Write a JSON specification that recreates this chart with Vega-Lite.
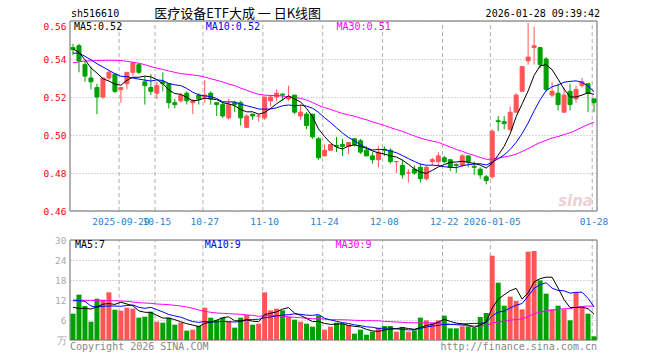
{
"$schema": "https://vega.github.io/schema/vega-lite/v6.json",
"width": 527, "height": 319,
"autosize": {"type": "none"},
"padding": {"left": 70, "top": 21, "right": 63, "bottom": 20},
"background": "white",
"config": {"view": {"stroke": null}, "font": "DejaVu Sans Mono", "text": {"font": "DejaVu Sans Mono", "fontSize": 10}},
"data": {"values": [
{"d":"2025-09-17","o":0.546,"h":0.548,"l":0.542,"c":0.545,"v":7.9,"m5":0.5453,"m10":0.5431,"m30":0.5380,"v5":9.8,"v10":11.8,"v30":12.0},
{"d":"2025-09-18","o":0.547,"h":0.548,"l":0.533,"c":0.539,"v":13.6,"m5":0.5435,"m10":0.5431,"m30":0.5385,"v5":9.5,"v10":11.8,"v30":12.0},
{"d":"2025-09-19","o":0.537,"h":0.539,"l":0.528,"c":0.531,"v":10.2,"m5":0.5396,"m10":0.5414,"m30":0.5390,"v5":9.5,"v10":11.6,"v30":11.9},
{"d":"2025-09-22","o":0.530,"h":0.536,"l":0.524,"c":0.528,"v":5.5,"m5":0.5353,"m10":0.5396,"m30":0.5390,"v5":9.3,"v10":10.2,"v30":11.9},
{"d":"2025-09-23","o":0.525,"h":0.527,"l":0.511,"c":0.520,"v":12.4,"m5":0.5326,"m10":0.5375,"m30":0.5392,"v5":9.92,"v10":9.9,"v30":11.8},
{"d":"2025-09-24","o":0.520,"h":0.530,"l":0.519,"c":0.530,"v":12.1,"m5":0.5296,"m10":0.5358,"m30":0.5393,"v5":10.76,"v10":10.1,"v30":11.8},
{"d":"2025-09-25","o":0.530,"h":0.534,"l":0.529,"c":0.533,"v":14.3,"m5":0.5284,"m10":0.5340,"m30":0.5393,"v5":10.9,"v10":10.2,"v30":11.8},
{"d":"2025-09-26","o":0.532,"h":0.532,"l":0.522,"c":0.523,"v":9.1,"m5":0.5268,"m10":0.5323,"m30":0.5393,"v5":10.68,"v10":10.2,"v30":11.8},
{"d":"2025-09-29","o":0.524,"h":0.525,"l":0.517,"c":0.525,"v":8.8,"m5":0.5262,"m10":0.5309,"m30":0.5392,"v5":11.34,"v10":10.1,"v30":11.7},
{"d":"2025-09-30","o":0.527,"h":0.533,"l":0.524,"c":0.533,"v":9.7,"m5":0.5288,"m10":0.5307,"m30":0.5388,"v5":10.8,"v10":10.36,"v30":11.6},
{"d":"2025-10-09","o":0.533,"h":0.538,"l":0.531,"c":0.538,"v":9.4,"m5":0.5304,"m10":0.5300,"m30":0.5383,"v5":10.26,"v10":10.51,"v30":11.4},
{"d":"2025-10-10","o":0.537,"h":0.538,"l":0.532,"c":0.533,"v":6.7,"m5":0.5304,"m10":0.5294,"m30":0.5378,"v5":8.74,"v10":9.82,"v30":11.2},
{"d":"2025-10-13","o":0.528,"h":0.531,"l":0.516,"c":0.526,"v":7.0,"m5":0.5310,"m10":0.5289,"m30":0.5370,"v5":8.32,"v10":9.5,"v30":11.1},
{"d":"2025-10-14","o":0.525,"h":0.532,"l":0.521,"c":0.523,"v":8.5,"m5":0.5306,"m10":0.5284,"m30":0.5360,"v5":8.26,"v10":9.8,"v30":11.0},
{"d":"2025-10-15","o":0.522,"h":0.528,"l":0.519,"c":0.526,"v":5.5,"m5":0.5292,"m10":0.5290,"m30":0.5352,"v5":7.42,"v10":9.11,"v30":10.8},
{"d":"2025-10-16","o":0.528,"h":0.533,"l":0.523,"c":0.527,"v":5.2,"m5":0.5270,"m10":0.5287,"m30":0.5345,"v5":6.58,"v10":8.42,"v30":10.7},
{"d":"2025-10-17","o":0.527,"h":0.527,"l":0.514,"c":0.517,"v":6.7,"m5":0.5238,"m10":0.5271,"m30":0.5337,"v5":6.58,"v10":7.66,"v30":10.6},
{"d":"2025-10-20","o":0.517,"h":0.519,"l":0.514,"c":0.516,"v":4.6,"m5":0.5218,"m10":0.5264,"m30":0.5330,"v5":6.1,"v10":7.21,"v30":10.4},
{"d":"2025-10-21","o":0.518,"h":0.522,"l":0.517,"c":0.521,"v":5.2,"m5":0.5214,"m10":0.5260,"m30":0.5323,"v5":5.44,"v10":6.85,"v30":10.2},
{"d":"2025-10-22","o":0.522,"h":0.523,"l":0.516,"c":0.518,"v":2.8,"m5":0.5198,"m10":0.5245,"m30":0.5320,"v5":4.9,"v10":6.16,"v30":9.9},
{"d":"2025-10-23","o":0.517,"h":0.519,"l":0.511,"c":0.518,"v":3.1,"m5":0.5180,"m10":0.5225,"m30":0.5316,"v5":4.48,"v10":5.53,"v30":9.5},
{"d":"2025-10-24","o":0.521,"h":0.522,"l":0.516,"c":0.519,"v":4.3,"m5":0.5184,"m10":0.5211,"m30":0.5312,"v5":4.0,"v10":5.29,"v30":9.0},
{"d":"2025-10-27","o":0.520,"h":0.529,"l":0.517,"c":0.521,"v":9.7,"m5":0.5194,"m10":0.5206,"m30":0.5305,"v5":5.02,"v10":5.56,"v30":8.6},
{"d":"2025-10-28","o":0.522,"h":0.523,"l":0.516,"c":0.519,"v":6.7,"m5":0.5190,"m10":0.5202,"m30":0.5296,"v5":5.32,"v10":5.38,"v30":8.3},
{"d":"2025-10-29","o":0.517,"h":0.517,"l":0.510,"c":0.516,"v":6.0,"m5":0.5186,"m10":0.5192,"m30":0.5288,"v5":5.96,"v10":5.43,"v30":8.1},
{"d":"2025-10-30","o":0.516,"h":0.517,"l":0.509,"c":0.510,"v":6.7,"m5":0.5170,"m10":0.5175,"m30":0.5279,"v5":6.68,"v10":5.58,"v30":8.0},
{"d":"2025-10-31","o":0.509,"h":0.519,"l":0.508,"c":0.516,"v":5.7,"m5":0.5164,"m10":0.5174,"m30":0.5268,"v5":6.96,"v10":5.48,"v30":7.9},
{"d":"2025-11-03","o":0.517,"h":0.518,"l":0.512,"c":0.516,"v":3.7,"m5":0.5154,"m10":0.5174,"m30":0.5260,"v5":5.76,"v10":5.39,"v30":7.8},
{"d":"2025-11-04","o":0.517,"h":0.518,"l":0.505,"c":0.509,"v":6.7,"m5":0.5134,"m10":0.5162,"m30":0.5247,"v5":5.76,"v10":5.54,"v30":7.7},
{"d":"2025-11-05","o":0.504,"h":0.511,"l":0.504,"c":0.510,"v":7.5,"m5":0.5122,"m10":0.5154,"m30":0.5235,"v5":6.06,"v10":6.01,"v30":7.51},
{"d":"2025-11-06","o":0.511,"h":0.511,"l":0.508,"c":0.510,"v":4.6,"m5":0.5122,"m10":0.5146,"m30":0.5224,"v5":5.64,"v10":6.16,"v30":7.4},
{"d":"2025-11-07","o":0.510,"h":0.511,"l":0.507,"c":0.510,"v":4.9,"m5":0.5110,"m10":0.5137,"m30":0.5214,"v5":5.48,"v10":6.22,"v30":7.11},
{"d":"2025-11-10","o":0.509,"h":0.520,"l":0.508,"c":0.520,"v":14.3,"m5":0.5118,"m10":0.5136,"m30":0.5210,"v5":7.6,"v10":6.68,"v30":7.25},
{"d":"2025-11-11","o":0.518,"h":0.521,"l":0.515,"c":0.520,"v":8.9,"m5":0.5140,"m10":0.5137,"m30":0.5208,"v5":8.04,"v10":6.9,"v30":7.36},
{"d":"2025-11-12","o":0.520,"h":0.524,"l":0.518,"c":0.522,"v":9.4,"m5":0.5164,"m10":0.5143,"m30":0.5208,"v5":8.42,"v10":7.24,"v30":7.26},
{"d":"2025-11-13","o":0.5215,"h":0.522,"l":0.518,"c":0.521,"v":8.9,"m5":0.5186,"m10":0.5154,"m30":0.5205,"v5":9.28,"v10":7.46,"v30":7.15},
{"d":"2025-11-14","o":0.519,"h":0.526,"l":0.518,"c":0.520,"v":7.0,"m5":0.5206,"m10":0.5158,"m30":0.5201,"v5":9.7,"v10":7.59,"v30":6.91},
{"d":"2025-11-17","o":0.521,"h":0.521,"l":0.511,"c":0.512,"v":6.1,"m5":0.5190,"m10":0.5154,"m30":0.5197,"v5":8.06,"v10":7.83,"v30":6.81},
{"d":"2025-11-18","o":0.510,"h":0.516,"l":0.508,"c":0.512,"v":5.5,"m5":0.5174,"m10":0.5157,"m30":0.5193,"v5":7.38,"v10":7.71,"v30":6.7},
{"d":"2025-11-19","o":0.511,"h":0.512,"l":0.503,"c":0.505,"v":4.9,"m5":0.5140,"m10":0.5152,"m30":0.5184,"v5":6.48,"v10":7.45,"v30":6.54},
{"d":"2025-11-20","o":0.511,"h":0.511,"l":0.498,"c":0.499,"v":4.0,"m5":0.5096,"m10":0.5141,"m30":0.5171,"v5":5.5,"v10":7.39,"v30":6.36},
{"d":"2025-11-21","o":0.498,"h":0.499,"l":0.487,"c":0.488,"v":7.4,"m5":0.5032,"m10":0.5119,"m30":0.5156,"v5":5.58,"v10":7.64,"v30":6.38},
{"d":"2025-11-24","o":0.489,"h":0.495,"l":0.489,"c":0.492,"v":3.1,"m5":0.4992,"m10":0.5091,"m30":0.5144,"v5":4.98,"v10":6.52,"v30":6.25},
{"d":"2025-11-25","o":0.492,"h":0.495,"l":0.492,"c":0.495,"v":4.0,"m5":0.4958,"m10":0.5066,"m30":0.5135,"v5":4.68,"v10":6.03,"v30":6.1},
{"d":"2025-11-26","o":0.4945,"h":0.499,"l":0.491,"c":0.494,"v":5.2,"m5":0.4936,"m10":0.5038,"m30":0.5124,"v5":4.74,"v10":5.61,"v30":6.09},
{"d":"2025-11-27","o":0.495,"h":0.498,"l":0.489,"c":0.494,"v":4.9,"m5":0.4926,"m10":0.5011,"m30":0.5113,"v5":4.92,"v10":5.21,"v30":6.08},
{"d":"2025-11-28","o":0.494,"h":0.496,"l":0.490,"c":0.496,"v":4.5,"m5":0.4942,"m10":0.4987,"m30":0.5106,"v5":4.34,"v10":4.96,"v30":6.01},
{"d":"2025-12-01","o":0.498,"h":0.498,"l":0.494,"c":0.495,"v":1.9,"m5":0.4948,"m10":0.4970,"m30":0.5099,"v5":4.1,"v10":4.54,"v30":5.92},
{"d":"2025-12-02","o":0.497,"h":0.498,"l":0.490,"c":0.491,"v":3.1,"m5":0.4940,"m10":0.4949,"m30":0.5089,"v5":3.92,"v10":4.3,"v30":5.85},
{"d":"2025-12-03","o":0.492,"h":0.494,"l":0.489,"c":0.489,"v":1.6,"m5":0.4930,"m10":0.4933,"m30":0.5080,"v5":3.2,"v10":3.97,"v30":5.81},
{"d":"2025-12-04","o":0.489,"h":0.491,"l":0.485,"c":0.487,"v":2.5,"m5":0.4916,"m10":0.4921,"m30":0.5069,"v5":2.72,"v10":3.82,"v30":5.79},
{"d":"2025-12-05","o":0.487,"h":0.494,"l":0.483,"c":0.491,"v":3.7,"m5":0.4906,"m10":0.4924,"m30":0.5060,"v5":2.56,"v10":3.45,"v30":5.77},
{"d":"2025-12-08","o":0.4925,"h":0.494,"l":0.489,"c":0.492,"v":4.2,"m5":0.4900,"m10":0.4924,"m30":0.5050,"v5":3.02,"v10":3.56,"v30":5.59},
{"d":"2025-12-09","o":0.492,"h":0.493,"l":0.485,"c":0.486,"v":4.2,"m5":0.4890,"m10":0.4915,"m30":0.5039,"v5":3.24,"v10":3.58,"v30":5.5},
{"d":"2025-12-10","o":0.486,"h":0.486,"l":0.480,"c":0.486,"v":2.5,"m5":0.4884,"m10":0.4907,"m30":0.5029,"v5":3.42,"v10":3.31,"v30":5.39},
{"d":"2025-12-11","o":0.484,"h":0.487,"l":0.477,"c":0.479,"v":3.9,"m5":0.4868,"m10":0.4892,"m30":0.5019,"v5":3.7,"v10":3.21,"v30":5.29},
{"d":"2025-12-12","o":0.480,"h":0.482,"l":0.475,"c":0.480,"v":2.5,"m5":0.4846,"m10":0.4876,"m30":0.5007,"v5":3.46,"v10":3.01,"v30":5.19},
{"d":"2025-12-15","o":0.482,"h":0.484,"l":0.479,"c":0.480,"v":2.9,"m5":0.4822,"m10":0.4861,"m30":0.4995,"v5":3.2,"v10":3.11,"v30":5.16},
{"d":"2025-12-16","o":0.483,"h":0.485,"l":0.475,"c":0.477,"v":6.7,"m5":0.4804,"m10":0.4847,"m30":0.4984,"v5":3.7,"v10":3.47,"v30":5.16},
{"d":"2025-12-17","o":0.477,"h":0.484,"l":0.476,"c":0.483,"v":5.9,"m5":0.4798,"m10":0.4841,"m30":0.4975,"v5":4.38,"v10":3.9,"v30":5.11},
{"d":"2025-12-18","o":0.486,"h":0.488,"l":0.484,"c":0.487,"v":5.2,"m5":0.4814,"m10":0.4841,"m30":0.4968,"v5":4.64,"v10":4.17,"v30":5.13},
{"d":"2025-12-19","o":0.486,"h":0.491,"l":0.484,"c":0.489,"v":5.9,"m5":0.4832,"m10":0.4839,"m30":0.4961,"v5":5.32,"v10":4.39,"v30":5.16},
{"d":"2025-12-22","o":0.488,"h":0.489,"l":0.485,"c":0.486,"v":7.3,"m5":0.4844,"m10":0.4833,"m30":0.4949,"v5":6.2,"v10":4.7,"v30":4.93},
{"d":"2025-12-23","o":0.487,"h":0.487,"l":0.481,"c":0.483,"v":3.5,"m5":0.4856,"m10":0.4830,"m30":0.4937,"v5":5.56,"v10":4.63,"v30":4.75},
{"d":"2025-12-24","o":0.4845,"h":0.485,"l":0.480,"c":0.484,"v":3.5,"m5":0.4858,"m10":0.4828,"m30":0.4924,"v5":5.08,"v10":4.73,"v30":4.55},
{"d":"2025-12-25","o":0.484,"h":0.490,"l":0.483,"c":0.489,"v":4.1,"m5":0.4862,"m10":0.4838,"m30":0.4914,"v5":4.86,"v10":4.75,"v30":4.39},
{"d":"2025-12-26","o":0.489,"h":0.489,"l":0.483,"c":0.486,"v":4.1,"m5":0.4856,"m10":0.4844,"m30":0.4902,"v5":4.5,"v10":4.91,"v30":4.29},
{"d":"2025-12-29","o":0.4835,"h":0.486,"l":0.479,"c":0.483,"v":3.7,"m5":0.4850,"m10":0.4847,"m30":0.4893,"v5":3.78,"v10":4.99,"v30":4.21},
{"d":"2025-12-30","o":0.482,"h":0.483,"l":0.477,"c":0.479,"v":6.9,"m5":0.4842,"m10":0.4849,"m30":0.4882,"v5":4.46,"v10":5.01,"v30":4.26},
{"d":"2025-12-31","o":0.478,"h":0.479,"l":0.474,"c":0.476,"v":8.1,"m5":0.4826,"m10":0.4842,"m30":0.4872,"v5":5.38,"v10":5.23,"v30":4.37},
{"d":"2026-01-05","o":0.478,"h":0.503,"l":0.477,"c":0.502,"v":25.3,"m5":0.4852,"m10":0.4857,"m30":0.4873,"v5":9.62,"v10":7.24,"v30":5.08},
{"d":"2026-01-06","o":0.5075,"h":0.510,"l":0.502,"c":0.507,"v":17.2,"m5":0.4894,"m10":0.4875,"m30":0.4879,"v5":12.24,"v10":8.37,"v30":5.4},
{"d":"2026-01-07","o":0.507,"h":0.510,"l":0.503,"c":0.506,"v":10.3,"m5":0.4940,"m10":0.4895,"m30":0.4884,"v5":13.56,"v10":8.67,"v30":5.64},
{"d":"2026-01-08","o":0.503,"h":0.515,"l":0.502,"c":0.512,"v":13.0,"m5":0.5006,"m10":0.4924,"m30":0.4890,"v5":14.78,"v10":9.62,"v30":5.94},
{"d":"2026-01-09","o":0.512,"h":0.522,"l":0.512,"c":0.521,"v":11.7,"m5":0.5096,"m10":0.4961,"m30":0.4899,"v5":15.5,"v10":10.44,"v30":6.16},
{"d":"2026-01-12","o":0.523,"h":0.536,"l":0.523,"c":0.536,"v":9.2,"m5":0.5164,"m10":0.5008,"m30":0.4913,"v5":12.28,"v10":10.95,"v30":6.3},
{"d":"2026-01-13","o":0.539,"h":0.559,"l":0.537,"c":0.541,"v":26.5,"m5":0.5232,"m10":0.5063,"m30":0.4928,"v5":14.14,"v10":13.19,"v30":7.04},
{"d":"2026-01-14","o":0.546,"h":0.557,"l":0.537,"c":0.547,"v":26.7,"m5":0.5314,"m10":0.5127,"m30":0.4945,"v5":17.42,"v10":15.49,"v30":7.86},
{"d":"2026-01-15","o":0.546,"h":0.546,"l":0.535,"c":0.537,"v":17.9,"m5":0.5364,"m10":0.5185,"m30":0.4960,"v5":18.4,"v10":16.59,"v30":8.36},
{"d":"2026-01-16","o":0.540,"h":0.541,"l":0.523,"c":0.524,"v":13.9,"m5":0.5370,"m10":0.5233,"m30":0.4972,"v5":18.84,"v10":17.17,"v30":8.77},
{"d":"2026-01-19","o":0.521,"h":0.528,"l":0.520,"c":0.523,"v":9.2,"m5":0.5344,"m10":0.5254,"m30":0.4984,"v5":18.84,"v10":15.56,"v30":8.99},
{"d":"2026-01-20","o":0.522,"h":0.527,"l":0.513,"c":0.516,"v":10.3,"m5":0.5294,"m10":0.5263,"m30":0.4992,"v5":15.6,"v10":14.87,"v30":9.21},
{"d":"2026-01-21","o":0.512,"h":0.525,"l":0.512,"c":0.521,"v":9.2,"m5":0.5242,"m10":0.5278,"m30":0.5002,"v5":12.1,"v10":14.76,"v30":9.38},
{"d":"2026-01-22","o":0.523,"h":0.527,"l":0.513,"c":0.516,"v":5.9,"m5":0.5200,"m10":0.5282,"m30":0.5012,"v5":9.7,"v10":14.05,"v30":9.43},
{"d":"2026-01-23","o":0.519,"h":0.526,"l":0.517,"c":0.524,"v":14.2,"m5":0.5200,"m10":0.5285,"m30":0.5025,"v5":9.76,"v10":14.3,"v30":9.82},
{"d":"2026-01-26","o":0.526,"h":0.530,"l":0.525,"c":0.528,"v":9.7,"m5":0.5210,"m10":0.5277,"m30":0.5041,"v5":9.86,"v10":14.35,"v30":10.02},
{"d":"2026-01-27","o":0.527,"h":0.527,"l":0.512,"c":0.522,"v":7.9,"m5":0.5222,"m10":0.5258,"m30":0.5055,"v5":9.38,"v10":12.49,"v30":10.2},
{"d":"2026-01-28","o":0.519,"h":0.519,"l":0.512,"c":0.517,"v":1.1,"m5":0.5214,"m10":0.5228,"m30":0.5067,"v5":7.76,"v10":9.93,"v30":10.14}
]},
"resolve": {"scale": {"y": "independent"}, "axis": {"y": "independent"}},
"layer": [
{
"layer": [
{"transform": [{"filter": {"field": "d", "oneOf": ["2025-09-29","2025-10-15","2025-10-27","2025-11-10","2025-11-24","2025-12-08","2025-12-22","2026-01-05","2026-01-28"]}}],
 "mark": {"type": "rule", "color": "#b0b0b0", "strokeWidth": 1, "strokeDash": [4, 3]},
 "encoding": {
  "x": {"field": "d", "type": "ordinal", "bandPosition": 0.2,
        "scale": {"type": "band", "paddingInner": 0, "paddingOuter": 0},
        "axis": {"title": null, "orient": "bottom", "offset": -129, "values": ["2025-09-29","2025-10-15","2025-10-27","2025-11-10","2025-11-24","2025-12-08","2025-12-22","2026-01-05","2026-01-28"],
                 "labelExpr": "datum.value == '2025-09-29' || datum.value == '2026-01-05' ? datum.value : slice(datum.value, 5)",
                 "bandPosition": 0.2, "labelAngle": 0, "labelOverlap": false, "labelFlush": false, "labelBound": false,
                 "labelFont": "DejaVu Sans Mono", "labelFontSize": 9.5, "labelColor": "#1a84d6", "labelPadding": 5,
                 "ticks": false, "domain": false, "grid": false}},
  "y": {"datum": 0.46, "type": "quantitative",
        "scale": {"domain": [0.46, 0.56], "range": [190, 0], "zero": false, "nice": false},
        "axis": {"title": null, "orient": "left", "values": [0.46, 0.48, 0.5, 0.52, 0.54, 0.56], "format": ".2f",
                 "labelColor": "#ff0000", "labelFont": "DejaVu Sans Mono", "labelFontSize": 9.5, "labelPadding": 4,
                 "labelBaseline": {"condition": {"test": "datum.value > 0.559", "value": "top"}, "value": "middle"},
                 "ticks": false, "domain": false, "grid": true, "gridColor": "#b0b0b0", "gridDash": [1, 2], "gridWidth": 1}},
  "y2": {"datum": 0.56}
 }},
{"data": {"values": [{}]}, "mark": {"type": "rule", "color": "#999999", "strokeWidth": 1.5},
 "encoding": {"y": {"datum": 0.56, "type": "quantitative"}}},
{"data": {"values": [{}]}, "mark": {"type": "rule", "color": "#999999", "strokeWidth": 1.5},
 "encoding": {"y": {"datum": 0.46, "type": "quantitative"}}},
{"data": {"values": [{}]}, "mark": {"type": "rule", "color": "#999999", "strokeWidth": 1.5},
 "encoding": {"x": {"datum": "2025-09-17", "type": "ordinal", "bandPosition": 0}, "y": {"datum": 0.46, "type": "quantitative"}, "y2": {"datum": 0.56}}},
{"data": {"values": [{}]}, "mark": {"type": "rule", "color": "#999999", "strokeWidth": 1.5},
 "encoding": {"x": {"datum": "2026-01-28", "type": "ordinal", "bandPosition": 1}, "y": {"datum": 0.46, "type": "quantitative"}, "y2": {"datum": 0.56}}},
{"mark": {"type": "rule", "strokeWidth": 1},
 "encoding": {
  "x": {"field": "d", "type": "ordinal"},
  "y": {"field": "l", "type": "quantitative"},
  "y2": {"field": "h"},
  "color": {"condition": {"test": "datum.c >= datum.o", "value": "#ff5555"}, "value": "#00a000"}
 }},
{"mark": {"type": "bar", "width": 4, "strokeWidth": 1},
 "encoding": {
  "x": {"field": "d", "type": "ordinal"},
  "y": {"field": "o", "type": "quantitative"},
  "y2": {"field": "c"},
  "color": {"condition": {"test": "datum.c >= datum.o", "value": "#ff5555"}, "value": "#00a000"},
  "stroke": {"condition": {"test": "datum.c >= datum.o", "value": "#ff5555"}, "value": "#00a000"}
 }},
{"mark": {"type": "line", "color": "#ff00ff", "strokeWidth": 1},
 "encoding": {"x": {"field": "d", "type": "ordinal"}, "y": {"field": "m30", "type": "quantitative"}}},
{"mark": {"type": "line", "color": "#0000ff", "strokeWidth": 1},
 "encoding": {"x": {"field": "d", "type": "ordinal"}, "y": {"field": "m10", "type": "quantitative"}}},
{"mark": {"type": "line", "color": "#000000", "strokeWidth": 1},
 "encoding": {"x": {"field": "d", "type": "ordinal"}, "y": {"field": "m5", "type": "quantitative"}}},
{"data": {"values": [{}]}, "mark": {"type": "text", "align": "left", "baseline": "middle", "dx": 4, "color": "#000000"},
 "encoding": {"x": {"datum": "2025-09-17", "type": "ordinal", "bandPosition": 0}, "y": {"datum": 0.5567, "type": "quantitative"}, "text": {"value": "MA5:0.52"}}},
{"data": {"values": [{}]}, "mark": {"type": "text", "align": "left", "baseline": "middle", "dx": 4, "color": "#0000ff"},
 "encoding": {"x": {"datum": "2025-10-27", "type": "ordinal", "bandPosition": 0}, "y": {"datum": 0.5567, "type": "quantitative"}, "text": {"value": "MA10:0.52"}}},
{"data": {"values": [{}]}, "mark": {"type": "text", "align": "left", "baseline": "middle", "dx": 3, "color": "#ff00ff"},
 "encoding": {"x": {"datum": "2025-11-26", "type": "ordinal", "bandPosition": 0}, "y": {"datum": 0.5567, "type": "quantitative"}, "text": {"value": "MA30:0.51"}}},
{"data": {"values": [{}]}, "mark": {"type": "text", "align": "left", "baseline": "middle", "dx": 1, "color": "#000000"},
 "encoding": {"x": {"datum": "2025-09-17", "type": "ordinal", "bandPosition": 0}, "y": {"datum": 0.5637, "type": "quantitative"}, "text": {"value": "sh516610"}}},
{"data": {"values": [{}]}, "mark": {"type": "text", "align": "center", "baseline": "middle", "font": "Noto Sans CJK SC", "fontSize": 13, "color": "#000000"},
 "encoding": {"x": {"datum": "2025-11-04", "type": "ordinal", "bandPosition": 0}, "y": {"datum": 0.5637, "type": "quantitative"}, "text": {"value": "医疗设备ETF大成 一 日K线图"}}},
{"data": {"values": [{}]}, "mark": {"type": "text", "align": "right", "baseline": "middle", "dx": 3, "color": "#000000"},
 "encoding": {"x": {"datum": "2026-01-28", "type": "ordinal", "bandPosition": 1}, "y": {"datum": 0.5637, "type": "quantitative"}, "text": {"value": "2026-01-28 09:39:42"}}},
{"data": {"values": [{}]}, "mark": {"type": "text", "align": "right", "baseline": "middle", "dx": -4, "font": "DejaVu Sans", "fontSize": 15, "fontWeight": "bold", "fontStyle": "italic", "color": "#e8c8c8", "opacity": 0.8},
 "encoding": {"x": {"datum": "2026-01-28", "type": "ordinal", "bandPosition": 1}, "y": {"datum": 0.4655, "type": "quantitative"}, "text": {"value": "sina"}}}
]
},
{
"layer": [
{"transform": [{"filter": {"field": "d", "oneOf": ["2025-09-29","2025-10-15","2025-10-27","2025-11-10","2025-11-24","2025-12-08","2025-12-22","2026-01-05","2026-01-28"]}}],
 "mark": {"type": "rule", "color": "#b0b0b0", "strokeWidth": 1, "strokeDash": [4, 3]},
 "encoding": {
  "x": {"field": "d", "type": "ordinal", "bandPosition": 0.2},
  "y": {"datum": 0, "type": "quantitative",
        "scale": {"domain": [0, 30], "range": [319, 219], "zero": false, "nice": false},
        "axis": {"title": null, "orient": "left", "values": [0, 6, 12, 18, 24, 30],
                 "labelExpr": "datum.value == 0 ? '万' : datum.label",
                 "labelColor": "#aaaaaa", "labelFont": "DejaVu Sans Mono", "labelFontSize": 9.5, "labelPadding": 4,
                 "ticks": false, "domain": false, "grid": true, "gridColor": "#b0b0b0", "gridDash": [1, 2], "gridWidth": 1}},
  "y2": {"datum": 30}
 }},
{"data": {"values": [{}]}, "mark": {"type": "rule", "color": "#999999", "strokeWidth": 1.5},
 "encoding": {"y": {"datum": 30, "type": "quantitative"}}},
{"data": {"values": [{}]}, "mark": {"type": "rule", "color": "#999999", "strokeWidth": 1.5},
 "encoding": {"y": {"datum": 0, "type": "quantitative"}}},
{"data": {"values": [{}]}, "mark": {"type": "rule", "color": "#999999", "strokeWidth": 1.5},
 "encoding": {"x": {"datum": "2025-09-17", "type": "ordinal", "bandPosition": 0}, "y": {"datum": 0, "type": "quantitative"}, "y2": {"datum": 30}}},
{"data": {"values": [{}]}, "mark": {"type": "rule", "color": "#999999", "strokeWidth": 1.5},
 "encoding": {"x": {"datum": "2026-01-28", "type": "ordinal", "bandPosition": 1}, "y": {"datum": 0, "type": "quantitative"}, "y2": {"datum": 30}}},
{"mark": {"type": "bar", "width": 5},
 "encoding": {
  "x": {"field": "d", "type": "ordinal"},
  "y": {"field": "v", "type": "quantitative"},
  "color": {"condition": {"test": "datum.c >= datum.o", "value": "#ff5555"}, "value": "#00a000"}
 }},
{"mark": {"type": "line", "color": "#ff00ff", "strokeWidth": 1},
 "encoding": {"x": {"field": "d", "type": "ordinal"}, "y": {"field": "v30", "type": "quantitative"}}},
{"mark": {"type": "line", "color": "#0000ff", "strokeWidth": 1},
 "encoding": {"x": {"field": "d", "type": "ordinal"}, "y": {"field": "v10", "type": "quantitative"}}},
{"mark": {"type": "line", "color": "#000000", "strokeWidth": 1},
 "encoding": {"x": {"field": "d", "type": "ordinal"}, "y": {"field": "v5", "type": "quantitative"}}},
{"data": {"values": [{}]}, "mark": {"type": "text", "align": "left", "baseline": "middle", "dx": 5, "color": "#000000"},
 "encoding": {"x": {"datum": "2025-09-17", "type": "ordinal", "bandPosition": 0}, "y": {"datum": 28.4, "type": "quantitative"}, "text": {"value": "MA5:7"}}},
{"data": {"values": [{}]}, "mark": {"type": "text", "align": "left", "baseline": "middle", "dx": 3, "color": "#0000ff"},
 "encoding": {"x": {"datum": "2025-10-27", "type": "ordinal", "bandPosition": 0}, "y": {"datum": 28.4, "type": "quantitative"}, "text": {"value": "MA10:9"}}},
{"data": {"values": [{}]}, "mark": {"type": "text", "align": "left", "baseline": "middle", "dx": 2, "color": "#ff00ff"},
 "encoding": {"x": {"datum": "2025-11-26", "type": "ordinal", "bandPosition": 0}, "y": {"datum": 28.4, "type": "quantitative"}, "text": {"value": "MA30:9"}}},
{"data": {"values": [{}]}, "mark": {"type": "text", "align": "left", "baseline": "middle", "dx": 0, "color": "#888888"},
 "encoding": {"x": {"datum": "2025-09-17", "type": "ordinal", "bandPosition": 0}, "y": {"datum": -2.0, "type": "quantitative"}, "text": {"value": "Copyright 2026 SINA.COM"}}},
{"data": {"values": [{}]}, "mark": {"type": "text", "align": "right", "baseline": "middle", "dx": 0, "color": "#888888"},
 "encoding": {"x": {"datum": "2026-01-28", "type": "ordinal", "bandPosition": 1}, "y": {"datum": -2.0, "type": "quantitative"}, "text": {"value": "http://finance.sina.com.cn"}}}
]
}
]
}
